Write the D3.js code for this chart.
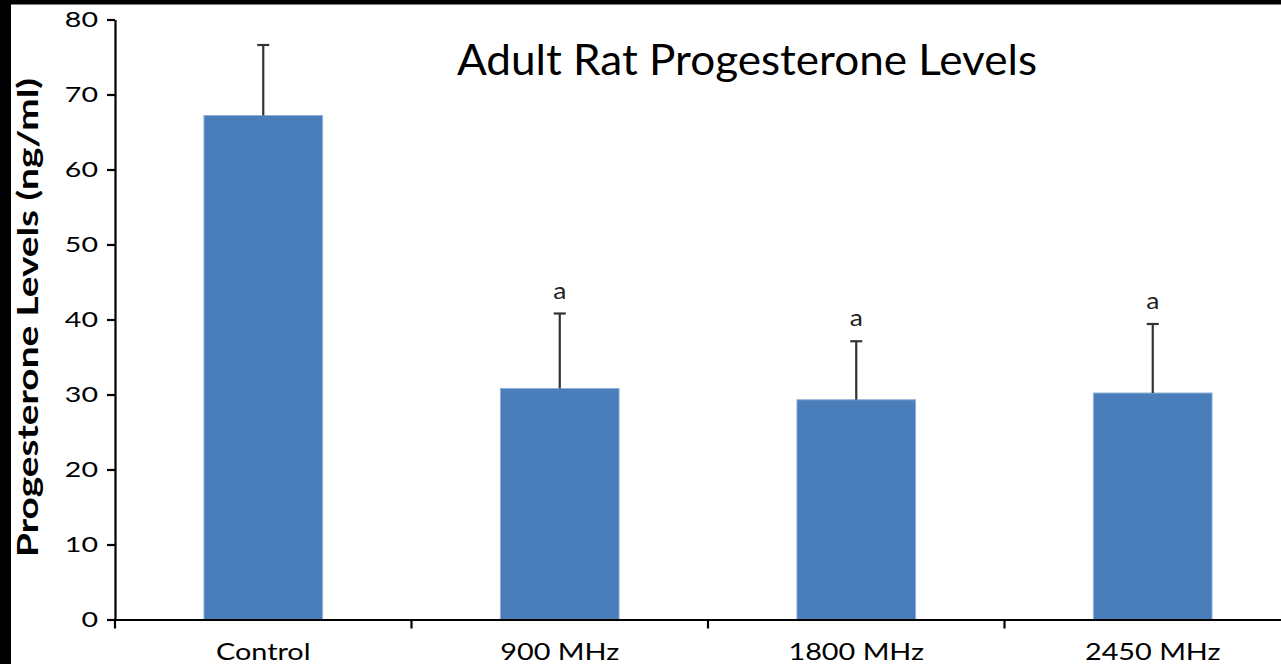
<!DOCTYPE html>
<html>
<head>
<meta charset="utf-8">
<script src="https://cdn.jsdelivr.net/npm/d3@7"></script>
<style>
  html, body { margin: 0; padding: 0; background: #000; }
  svg { display: block; }
</style>
</head>
<body>
<script>
const categories = ["Control", "900 MHz", "1800 MHz", "2450 MHz"];
const means = [67.2, 30.8, 29.3, 30.2];
const errors = [9.4, 10.0, 7.8, 9.2];
const sigLabels = ["", "a", "a", "a"];
const yTicks = [0, 10, 20, 30, 40, 50, 60, 70, 80];
const title = "Adult Rat Progesterone Levels";
const yLabel = "Progesterone Levels (ng/ml)";

const W = 1281, H = 664;
const svg = d3.select("body").append("svg").attr("width", W).attr("height", H);

// white panel with black border (top & left)
svg.append("rect").attr("x", 0).attr("y", 0).attr("width", W).attr("height", H).attr("fill", "#000");
svg.append("rect").attr("x", 11).attr("y", 4.5).attr("width", W - 11).attr("height", H - 4.5).attr("fill", "#fff");

const x0 = 115, x1 = 1301, yTop = 19.5, yBot = 619.5;
const x = d3.scaleBand().domain(categories).range([x0, x1]).paddingInner(0).paddingOuter(0);
const y = d3.scaleLinear().domain([0, 80]).range([yBot, yTop]);
const barW = x.bandwidth() * 0.4;

const font = "Lato, 'Open Sans', sans-serif";

// stretch a text horizontally by a factor
function stretch(sel, f) {
  sel.each(function () {
    const len = this.getComputedTextLength();
    d3.select(this).attr("textLength", len * f).attr("lengthAdjust", "spacingAndGlyphs");
  });
}

// bars
svg.selectAll("rect.bar").data(categories).enter().append("rect")
  .attr("class", "bar")
  .attr("x", d => x(d) + (x.bandwidth() - barW) / 2)
  .attr("width", barW)
  .attr("y", (d, i) => y(means[i]))
  .attr("height", (d, i) => y(0) - y(means[i]))
  .attr("fill", "#4a7ebb")
  .attr("stroke", "#8fb0da")
  .attr("stroke-width", 1);

// error bars
const eb = svg.selectAll("g.err").data(categories).enter().append("g").attr("class", "err");
eb.append("line")
  .attr("x1", d => x(d) + x.bandwidth() / 2).attr("x2", d => x(d) + x.bandwidth() / 2)
  .attr("y1", (d, i) => y(means[i])).attr("y2", (d, i) => y(means[i] + errors[i]))
  .attr("stroke", "#333").attr("stroke-width", 2.2);
eb.append("line")
  .attr("x1", d => x(d) + x.bandwidth() / 2 - 6).attr("x2", d => x(d) + x.bandwidth() / 2 + 6)
  .attr("y1", (d, i) => y(means[i] + errors[i])).attr("y2", (d, i) => y(means[i] + errors[i]))
  .attr("stroke", "#333").attr("stroke-width", 2.2);

// significance letters
const sig = svg.selectAll("text.sig").data(categories).enter().append("text")
  .attr("class", "sig")
  .attr("x", d => x(d) + x.bandwidth() / 2)
  .attr("y", (d, i) => y(means[i] + errors[i]) - 15)
  .attr("text-anchor", "middle")
  .attr("font-family", font).attr("font-size", 23)
  .attr("fill", "#222")
  .text((d, i) => sigLabels[i]);
stretch(sig, 1.15);

// y axis
const yAxis = svg.append("g").attr("transform", `translate(${x0},0)`)
  .call(d3.axisLeft(y).tickValues(yTicks).tickSize(8).tickSizeOuter(0).tickPadding(9));
yAxis.select(".domain").attr("stroke", "#000").attr("stroke-width", 2.2);
yAxis.selectAll(".tick line").attr("stroke", "#000").attr("stroke-width", 2.2);
const yt = yAxis.selectAll(".tick text").attr("font-family", font).attr("font-size", 22).attr("fill", "#000");
stretch(yt, 1.3);

// x axis
const xAxis = svg.append("g").attr("transform", `translate(0,${yBot})`)
  .call(d3.axisBottom(x).tickSize(0));
xAxis.select(".domain").attr("stroke", "#000").attr("stroke-width", 2.2);
const xt = xAxis.selectAll(".tick text")
  .attr("font-family", font).attr("font-size", 24).attr("fill", "#000")
  .attr("dy", null).attr("y", 40.5);
stretch(xt, 1.2);
// boundary tick marks between categories
svg.append("g").selectAll("line.xt").data(categories).enter().append("line")
  .attr("x1", d => x(d)).attr("x2", d => x(d))
  .attr("y1", yBot).attr("y2", yBot + 9)
  .attr("stroke", "#000").attr("stroke-width", 2.2);

// title
svg.append("text")
  .attr("x", 747).attr("y", 75)
  .attr("text-anchor", "middle")
  .attr("font-family", font).attr("font-size", 42).attr("fill", "#000")
  .attr("textLength", 580).attr("lengthAdjust", "spacingAndGlyphs")
  .text(title);

// y label
svg.append("text")
  .attr("transform", `translate(38,317.5) rotate(-90)`)
  .attr("text-anchor", "middle")
  .attr("font-family", font).attr("font-weight", "bold").attr("font-size", 28).attr("fill", "#000")
  .attr("textLength", 479).attr("lengthAdjust", "spacingAndGlyphs")
  .text(yLabel);
</script>
</body>
</html>
